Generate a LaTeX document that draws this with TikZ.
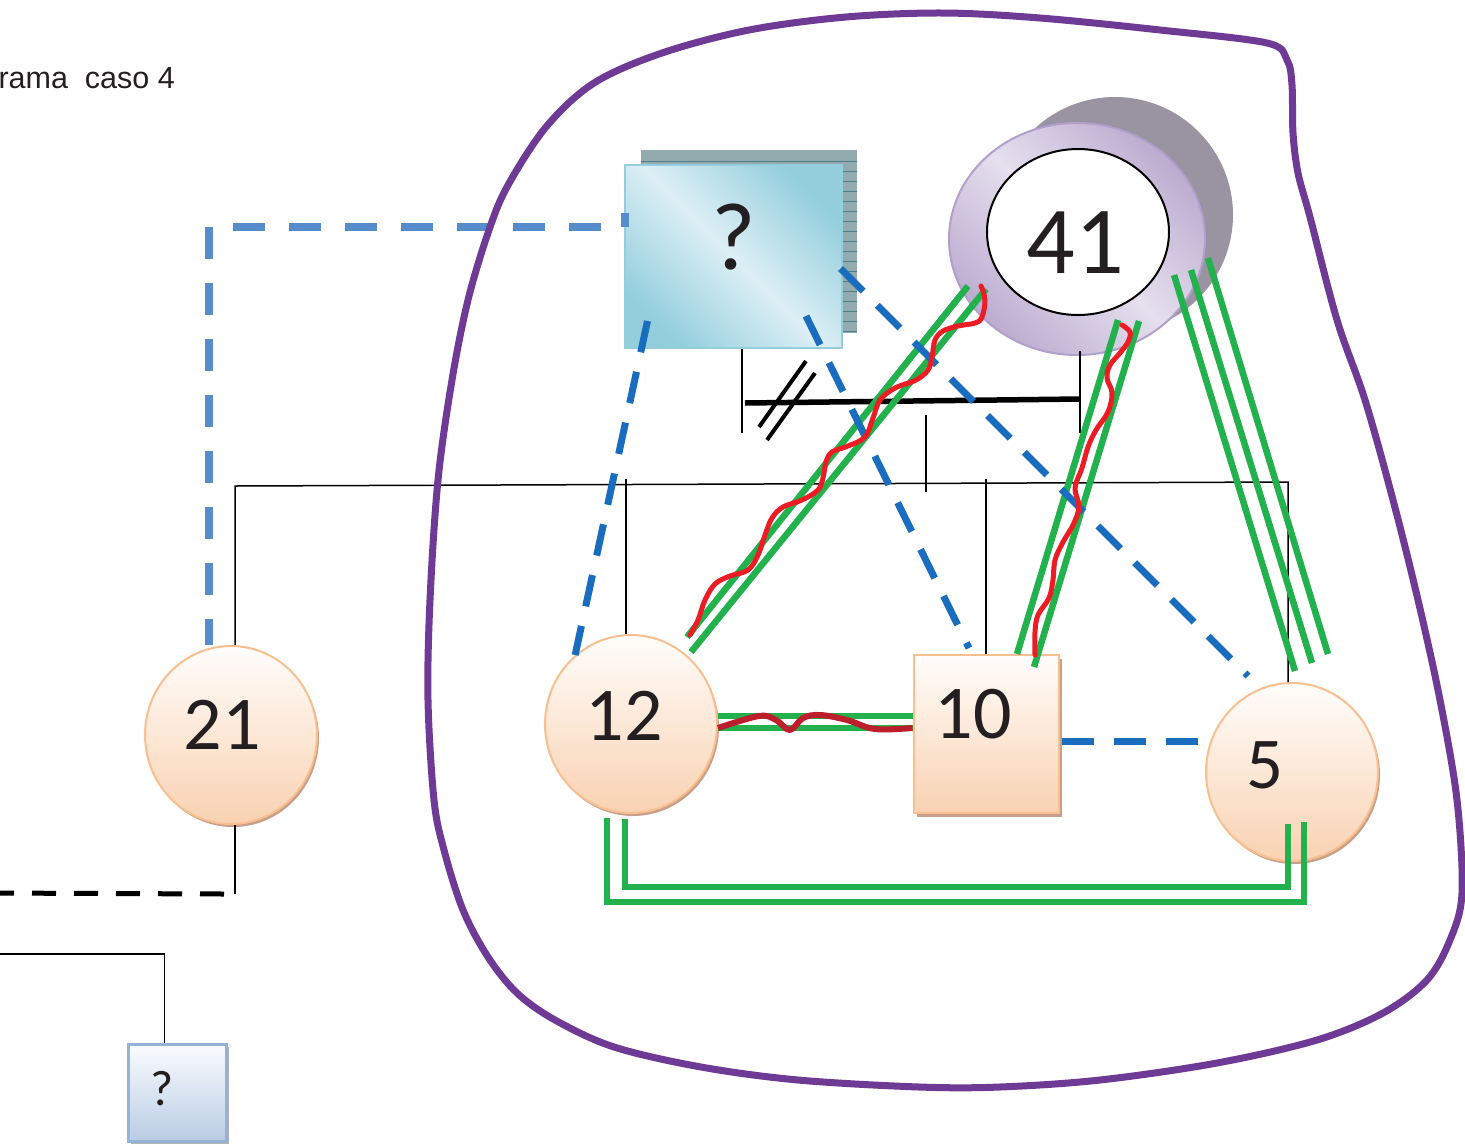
\documentclass[tikz,border=0pt]{standalone}
\usepackage{fontspec}
\setmainfont{Carlito}
\newfontfamily\titlefont{Liberation Sans}
\usetikzlibrary{calc,shapes.geometric,shadows}
\definecolor{blobpurple}{HTML}{6E3A96}
\definecolor{linkgreen}{HTML}{22B14C}
\definecolor{wavered}{HTML}{EC1C24}
\definecolor{wavedark}{HTML}{BD1E2C}
\definecolor{dashblue}{HTML}{1A6DBE}
\definecolor{dashlight}{HTML}{568CCB}
\definecolor{peachtop}{HTML}{FFFDFB}
\definecolor{peachbot}{HTML}{F9D2B2}
\definecolor{peachline}{HTML}{F8BF90}
\definecolor{peachshade}{HTML}{C8A08A}
\definecolor{lilaclight}{HTML}{E5DFEE}
\definecolor{lilacdark}{HTML}{BCACD0}
\definecolor{lilacline}{HTML}{B1A0CB}
\definecolor{ghostgray}{HTML}{9A93A2}
\definecolor{icelight}{HTML}{DDEFF5}
\definecolor{icedark}{HTML}{94CEDD}
\definecolor{iceshade}{HTML}{93AAAE}
\definecolor{iceshadeline}{HTML}{4E7F88}
\definecolor{skytop}{HTML}{FAFCFE}
\definecolor{skybot}{HTML}{B8CCE4}
\definecolor{skyline}{HTML}{95B3D7}
\definecolor{inkgray}{HTML}{231F20}

\begin{document}
\begin{tikzpicture}[x=1pt,y=1pt,yscale=-1,xscale=1,
  orb/.style={ellipse,draw=peachline,line width=2pt,top color=peachtop,bottom color=peachbot,drop shadow={shadow xshift=2pt,shadow yshift=-3pt,fill=peachshade,opacity=1},minimum width=172pt,minimum height=178pt,inner sep=0pt},
  slab/.style={rectangle,draw=peachline,line width=2pt,top color=peachtop,bottom color=peachbot,drop shadow={shadow xshift=3pt,shadow yshift=-4pt,fill=peachshade,opacity=1},inner sep=0pt},
  num/.style={inner sep=0pt,text=inkgray,font=\fontsize{76}{76}\selectfont},
  tree/.style={line width=1.5pt},
  grn/.style={draw=linkgreen,line width=6.5pt},
  bluedash/.style={draw=dashblue,line width=7pt,dash pattern=on 32pt off 20pt},
  lightdash/.style={draw=dashlight,line width=8pt,dash pattern=on 32pt off 24pt,dash phase=18pt},
  blkdash/.style={line width=5pt,dash pattern=on 24pt off 18pt},
  wave/.style={draw=wavered,line width=5pt,line cap=round,line join=round}]
\useasboundingbox (0,0) rectangle (1465,1144);

\fill[ghostgray] (1115,215) ellipse (118 and 118);
\fill[iceshade] (641,150) rectangle (857,333);
\draw[iceshadeline,line width=1pt] (641,161) -- (857,161) (842,171) -- (857,171) (842,181) -- (857,181) (842,191) -- (857,191) (842,201) -- (857,201) (842,211) -- (857,211) (842,221) -- (857,221) (842,231) -- (857,231) (842,241) -- (857,241) (842,251) -- (857,251) (842,261) -- (857,261) (842,271) -- (857,271) (842,281) -- (857,281) (842,291) -- (857,291) (842,301) -- (857,301) (842,311) -- (857,311) (842,321) -- (857,321) (842,331) -- (857,331);

\node[ellipse,draw=lilacline,line width=2pt,top color=lilacdark,bottom color=lilacdark,middle color=lilaclight,shading angle=-45,minimum width=256pt,minimum height=232pt] (ring41) at (1077,239) {};
\node[ellipse,draw=black,line width=2pt,fill=white,minimum width=182pt,minimum height=166pt] (n41) at (1078,232) {};
\node[num,font=\fontsize{96}{96}\selectfont] (t41) at (1075,243) {41};
\node[rectangle,draw=icedark,line width=2pt,top color=icedark,bottom color=icedark,middle color=icelight,shading angle=-45,minimum width=217pt,minimum height=183pt] (nq) at (733,256.5) {};
\node[num,font=\fontsize{96}{96}\selectfont] (tq) at (734,237) {?};
\node[orb] (n21) at (231,735) {};
\node[num] (t21) at (222,725) {21};
\node[orb] (n12) at (631,724) {};
\node[num] (t12) at (624,716) {12};
\node[slab,minimum width=145pt,minimum height=158pt] (n10) at (986,734) {};
\node[num] (t10) at (973,714) {10};
\node[orb] (n5) at (1292,772) {};
\node[num,font=\fontsize{73}{73}\selectfont] (t5) at (1265,765) {5};
\node[rectangle,draw=skyline,line width=2.5pt,top color=skytop,bottom color=skybot,drop shadow={shadow xshift=2pt,shadow yshift=-2pt,fill=gray!60,opacity=1},minimum width=98pt,minimum height=97pt] (nsq) at (177.5,1093) {};
\node[num,font=\fontsize{50}{50}\selectfont] (tsq) at (162,1089) {?};
\node[anchor=base east,inner sep=0pt,text=inkgray,font=\titlefont\fontsize{30.5}{30.5}\selectfont] (title) at (175,88) {rama\ \ caso 4};

\coordinate (busL) at (235,486);
\coordinate (busR) at (1288,482);
\coordinate (edgeL) at (-12,893);
\coordinate (edgeL2) at (-5,954);
\draw[tree] ($(n21.north)+(4,0)$) -- (busL) -- (busR) -- ($(n5.north)+(-4,0)$);
\draw[tree] ($(n12.north)+(-5,0)$) -- ++(0,-155);
\draw[tree] (n10.north) -- ++(0,-175);
\draw[tree] (926,415) -- (926,492);
\draw[tree] ($(nq.south)+(9,0)$) -- ++(0,84);
\draw[tree] ($(ring41.south)+(3,-5)$) -- ++(0,82);
\draw[line width=5.5pt] ($(nq.south)+(12,54)$) -- ($(ring41.south)+(3,43)$);
\draw[line width=4pt] (759,427) -- (806,361) (767,440) -- (815,373);
\draw[tree] ($(n21.south)+(4,0)$) -- ++(0,69) coordinate (drop21);
\draw[blkdash] ($(drop21)+(-11,0)$) -- (edgeL);
\draw[tree] (edgeL2) -| ($(nsq.north)+(-13,0)$);

\draw[grn] ($(n12.center)+(56,-87)$) -- ($(ring41.center)+(-109,47)$);
\draw[grn] ($(n12.center)+(60,-72)$) -- ($(ring41.center)+(-91,50)$);
\draw[grn] ($(n10.north)+(31,0)$) -- ($(ring41.center)+(41,81)$);
\draw[grn] ($(n10.north)+(48,13)$) -- ($(ring41.center)+(62,82)$);
\draw[grn] ($(n5.north)+(3,-11)$) -- ($(ring41.center)+(97,36)$);
\draw[grn] ($(n5.north)+(20,-19)$) -- ($(ring41.center)+(114,31)$);
\draw[grn] ($(n5.north)+(36,-28)$) -- ($(ring41.center)+(131,19)$);
\draw[grn,line width=5.5pt] ($(n12.east)+(0,-8)$) -- ($(n10.west)+(0,-18)$);
\draw[grn,line width=5.5pt] ($(n12.east)+(0,4)$) -- ($(n10.west)+(0,-6)$);
\draw[grn,line width=5.5pt] ($(n12.south)+(-24,4)$) -- ($(n12.south)+(-24,88)$) -| ($(n5.south)+(12,-40)$);
\draw[grn,line width=5.5pt] ($(n12.south)+(-6,5)$) -- ($(n12.south)+(-6,73)$) -| ($(n5.south)+(-4,-38)$);

\draw[lightdash] ($(nq.west)+(1,-44)$) -- ($(nq.west)+(1,-30)$) -| ($(n21.north)+(-22,0)$);
\draw[bluedash] ($(nq.south west)+(24,-28)$) -- (n12.129);
\draw[bluedash] ($(nq.south)+(73,-33)$) -- ($(n10.north)+(-17,-6)$);
\draw[bluedash] ($(nq.east)+(-2,12)$) -- ($(n5.center)+(-44,-96)$);
\coordinate (d10) at ($(n10.east)+(2,7)$);
\draw[bluedash] (d10) -- (d10 -| n5.west);

\draw[wave] plot[smooth,tension=0.6] coordinates {(690,635) (698,620) (705,600) (715,584) (730,576) (748,570) (758,555) (765,535) (772,518) (783,507) (802,500) (818,490) (823,478) (826,462) (832,452) (848,446) (865,437) (873,418) (880,400) (895,388) (916,380) (928,370) (932,357) (935,340) (943,331) (958,326) (975,323) (982,317) (985,300) (981,286)};
\draw[wave] plot[smooth,tension=0.6] coordinates {(1122,325) (1130,332) (1128,342) (1120,353) (1110,365) (1107,378) (1112,393) (1108,412) (1096,430) (1088,447) (1082,468) (1075,488) (1079,507) (1073,525) (1063,542) (1055,560) (1053,580) (1049,598) (1038,615) (1035,632) (1035,655)};
\draw[wave,draw=wavedark,line width=6pt,line cap=butt] plot[smooth,tension=0.6] coordinates {($(n12.east)+(0,4)$) (759,716) (776,720) (790,730) (803,718) (820,715) (847,720) (875,729) ($(n10.west)+(0,-6)$)};

\draw[blobpurple,line width=7pt] plot[smooth cycle,tension=0.55] coordinates {(943,13) (1040,18) (1160,30) (1267,43) (1287,60) (1292,85) (1293,133) (1298,173) (1310,217) (1337,320) (1365,400) (1393,500) (1418,600) (1440,700) (1457,800) (1462,893) (1450,940) (1427,980) (1383,1013) (1317,1040) (1217,1063) (1100,1080) (1000,1087) (919,1087) (798,1080) (701,1067) (614,1047) (555,1020) (517,993) (488,957) (463,910) (444,850) (434,800) (428,700) (430,600) (438,480) (452,380) (468,300) (488,233) (507,187) (546,127) (594,83) (662,53) (749,30) (846,17)};
\end{tikzpicture}
\end{document}
